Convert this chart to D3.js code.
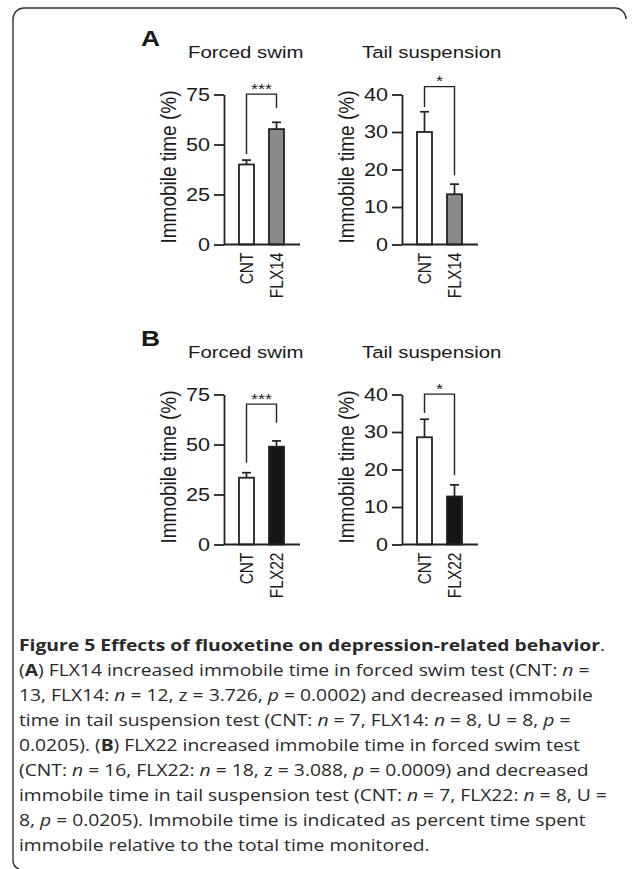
<!DOCTYPE html>
<html>
<head>
<meta charset="utf-8">
<script src="https://cdn.jsdelivr.net/npm/d3@7"></script>
<style>
  body { margin: 0; background: #fff; }
  svg text { font-family: "Liberation Sans", Arial, sans-serif; fill: #1a1a1a; }
  svg text.cap { font-family: "Open Sans", sans-serif; fill: #2a2a2a; }
</style>
</head>
<body>
<div id="fig"></div>
<script>
// values (mean, and upward SEM)
const panels = ["A", "B"];
const tests = ["Forced swim", "Tail suspension"];
const catsA = ["CNT", "FLX14"];
const catsB = ["CNT", "FLX22"];
const swimA = [40.0, 57.7], swimSemA = [2.2, 3.4];
const tailA = [30.0, 13.4], tailSemA = [5.4, 2.7];
const swimB = [33.4, 48.9], swimSemB = [2.5, 2.9];
const tailB = [28.6, 12.8], tailSemB = [4.8, 3.1];
const swimTicks = [0, 25, 50, 75];
const tailTicks = [0, 10, 20, 30, 40];
// significance brackets: [top, left end, right end] in data units
const sigA = ["***", "*"], sigB = ["***", "*"];
const brSwimA = [75.2, 45.2, 68.2], brTailA = [42.1, 36.7, 18.5];
const brSwimB = [70.2, 40.9, 60.9], brTailB = [40.1, 35.1, 18.5];

const width = 636, height = 869;
const sx = 1.2;    // the figure is stretched horizontally
const capSx = 1.17; // and so is the caption
const axisX = [224, 402];
const offY = [0, 300];

const svg = d3.select("#fig").append("svg")
  .attr("width", width).attr("height", height);

// frame
svg.append("path")
  .attr("d", "M626,19 A11,11 0 0 0 615,8 H24 A11,11 0 0 0 13,19 V860 Q13,867 19,869")
  .attr("fill", "none").attr("stroke", "#333").attr("stroke-width", 1.4);

const charts = [
  { p: 0, t: 0, cats: catsA, vals: swimA, sem: swimSemA, ticks: swimTicks, fill: "#8a8a8a", sig: sigA[0], br: brSwimA },
  { p: 0, t: 1, cats: catsA, vals: tailA, sem: tailSemA, ticks: tailTicks, fill: "#8a8a8a", sig: sigA[1], br: brTailA },
  { p: 1, t: 0, cats: catsB, vals: swimB, sem: swimSemB, ticks: swimTicks, fill: "#161616", sig: sigB[0], br: brSwimB },
  { p: 1, t: 1, cats: catsB, vals: tailB, sem: tailSemB, ticks: tailTicks, fill: "#161616", sig: sigB[1], br: brTailB }
];

function stretched(sel, x, y, rot) {
  sel.attr("transform", `translate(${x},${y}) scale(${sx},1)` + (rot ? ` rotate(${rot})` : ""));
}

panels.forEach((p, i) => {
  svg.append("text").text(p)
    .style("font-size", "22px").style("font-weight", "bold")
    .call(stretched, 141, 46 + offY[i]);
  tests.forEach((t, j) => {
    svg.append("text").text(t)
      .style("font-size", "17px")
      .call(stretched, [188, 362][j], 58 + offY[i]);
  });
});

charts.forEach(c => {
  const x0 = axisX[c.t], dy = offY[c.p];
  const y = d3.scaleLinear().domain([0, d3.max(c.ticks)]).range([244.5 + dy, 94.5 + dy]);
  const x = d3.scalePoint().domain(c.cats).range([x0 + 22.5, x0 + 52.5]);
  const g = svg.append("g");
  const bw = 15;

  // error bars (upward only)
  c.vals.forEach((v, i) => {
    const cx = x(c.cats[i]);
    g.append("line").attr("x1", cx).attr("x2", cx)
      .attr("y1", y(v)).attr("y2", y(v + c.sem[i]));
    g.append("line").attr("x1", cx - 4.5).attr("x2", cx + 4.5)
      .attr("y1", y(v + c.sem[i])).attr("y2", y(v + c.sem[i]));
  });
  g.selectAll("line").attr("stroke", "#222").attr("stroke-width", 1.7);

  g.selectAll("rect.bar")
    .data(c.vals)
    .join("rect")
    .attr("class", "bar")
    .attr("x", (d, i) => x(c.cats[i]) - bw / 2)
    .attr("y", d => y(d))
    .attr("width", bw)
    .attr("height", d => y(0) - y(d))
    .attr("fill", (d, i) => i ? c.fill : "#fff")
    .attr("stroke", "#222").attr("stroke-width", 1.8);

  // y axis
  const ga = g.append("g")
    .attr("transform", `translate(${x0},0)`)
    .call(d3.axisLeft(y).tickValues(c.ticks).tickSize(10).tickSizeOuter(0).tickPadding(4));
  ga.selectAll("path,line").attr("stroke", "#222").attr("stroke-width", 1.8);
  ga.selectAll("text")
    .attr("x", -14 / sx)
    .attr("transform", `scale(${sx},1)`)
    .attr("fill", "#1a1a1a")
    .style("font-size", "18px")
    .style("font-family", "Liberation Sans, Arial, sans-serif");

  // baseline
  g.append("line")
    .attr("x1", x0).attr("x2", x0 + 76)
    .attr("y1", y(0)).attr("y2", y(0))
    .attr("stroke", "#222").attr("stroke-width", 1.8);

  // category labels
  c.cats.forEach(cat => {
    g.append("text").text(cat)
      .attr("text-anchor", "end").attr("dy", "0.35em")
      .style("font-size", "15.5px")
      .call(stretched, x(cat), y(0) + 8, -90);
  });

  // axis title
  g.append("text").text("Immobile time (%)")
    .attr("text-anchor", "middle")
    .style("font-size", "19px")
    .call(stretched, x0 - 48, 167 + dy, -90);

  // significance bracket
  const xl = x(c.cats[0]), xr = x(c.cats[1]);
  g.append("path")
    .attr("d", `M${xl},${y(c.br[1])}V${y(c.br[0])}H${xr}V${y(c.br[2])}`)
    .attr("fill", "none").attr("stroke", "#222").attr("stroke-width", 1.4);
  g.append("text").text(c.sig)
    .attr("text-anchor", "middle")
    .style("font-size", "15px")
    .call(stretched, (xl + xr) / 2, y(c.br[0]) - 0.5);
});

// caption
const capLines = [
  [["Figure 5 Effects of fluoxetine on depression-related behavior", "b"], [".", ""]],
  [["(", ""], ["A", "b"], [") FLX14 increased immobile time in forced swim test (CNT: ", ""], ["n", "i"], [" =", ""]],
  [["13, FLX14: ", ""], ["n", "i"], [" = 12, z = 3.726, ", ""], ["p", "i"], [" = 0.0002) and decreased immobile", ""]],
  [["time in tail suspension test (CNT: ", ""], ["n", "i"], [" = 7, FLX14: ", ""], ["n", "i"], [" = 8, U = 8, ", ""], ["p", "i"], [" =", ""]],
  [["0.0205). (", ""], ["B", "b"], [") FLX22 increased immobile time in forced swim test", ""]],
  [["(CNT: ", ""], ["n", "i"], [" = 16, FLX22: ", ""], ["n", "i"], [" = 18, z = 3.088, ", ""], ["p", "i"], [" = 0.0009) and decreased", ""]],
  [["immobile time in tail suspension test (CNT: ", ""], ["n", "i"], [" = 7, FLX22: ", ""], ["n", "i"], [" = 8, U =", ""]],
  [["8, ", ""], ["p", "i"], [" = 0.0205). Immobile time is indicated as percent time spent", ""]],
  [["immobile relative to the total time monitored.", ""]]
];

capLines.forEach((line, i) => {
  const t = svg.append("text").attr("class", "cap")
    .attr("transform", `translate(19,${651 + i * 25}) scale(${capSx},1)`)
    .style("font-size", "16.5px")
    .attr("xml:space", "preserve");
  line.forEach(([s, f]) => {
    t.append("tspan").text(s)
      .style("font-weight", f === "b" ? "bold" : "normal")
      .style("font-style", f === "i" ? "italic" : "normal");
  });
});
</script>
</body>
</html>
